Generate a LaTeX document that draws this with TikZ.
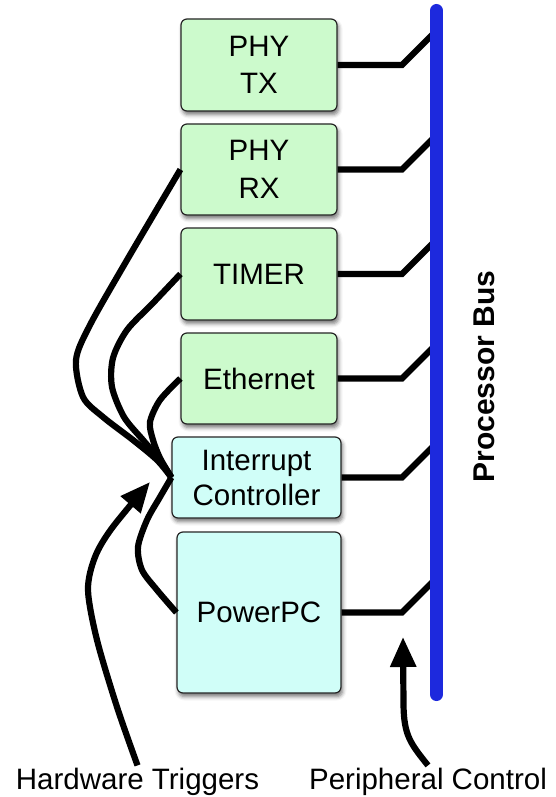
\documentclass[tikz,border=0pt]{standalone}
\usepackage{fontspec}
\setmainfont{Liberation Sans}
\usetikzlibrary{arrows.meta,shadows.blur}
\definecolor{boxgreen}{RGB}{204,250,204}
\definecolor{boxcyan}{RGB}{208,254,248}
\definecolor{busblue}{RGB}{29,41,221}
\begin{document}
\begin{tikzpicture}[x=1pt,y=-1pt,
  unit/.style={rectangle, rounded corners=6pt, draw=black!85, line width=1.2pt,
    align=center, inner sep=0pt, font=\fontsize{29.5}{37.5}\selectfont,
    blur shadow={shadow xshift=1.5pt, shadow yshift=-3.5pt, shadow blur radius=4pt, shadow opacity=55}},
  greenunit/.style={unit, fill=boxgreen, minimum width=156pt, minimum height=92pt},
  cyanunit/.style={unit, fill=boxcyan},
  wire/.style={line width=6.2pt, draw=black},
  pointer/.style={line width=6.2pt, draw=black, -{Triangle[length=30pt,width=25pt]}},
  caption/.style={font=\fontsize{29.5}{35}\selectfont, inner sep=2pt, anchor=base}
]
\useasboundingbox (0,0) rectangle (556,797);

% bus end points
\coordinate (bustop) at (436.5,10.5);
\coordinate (busbot) at (436.5,694.5);

% units
\node[greenunit] (tx)  at (259,65)    {PHY\\TX};
\node[greenunit, minimum height=91pt] (rx)  at (259,169.5) {PHY\\RX};
\node[greenunit] (tm)  at (259,274)   {TIMER};
\node[greenunit, minimum height=91pt] (eth) at (259,378.5) {Ethernet};
\node[cyanunit, minimum width=169pt, minimum height=81pt, font=\fontsize{29.5}{35}\selectfont] (ic) at (256.5,477.5) {Interrupt\\Controller};
\node[cyanunit, minimum width=164pt, minimum height=161pt] (ppc) at (259,612.5) {PowerPC};

% connectors to bus
\foreach \n in {tx,rx,tm,eth,ic,ppc}{
  \draw[wire] (\n.east) -- (402,0 |- \n.east) -- ++(34,-34);
}

% bus
\draw[line width=13pt, line cap=round, draw=busblue] (bustop) -- (busbot);
\node[rotate=90, font=\bfseries\fontsize{30}{36}\selectfont] (buslabel) at (484.5,376.5) {Processor Bus};

% interrupt lines
\draw[wire] plot[smooth] coordinates {(rx.west) (127,260) (90,325) (76,360) (83,397) (103,417) (133,440) (157,460) (ic.west)};
\draw[wire] plot[smooth] coordinates {(tm.west) (153,303) (127,330) (113,358) (112,387) (124,417) (143,440) (160,460) (ic.west)};
\draw[wire] plot[smooth] coordinates {(eth.west) (160,400) (150,422) (153,440) (160,458) (ic.west)};
\draw[wire] plot[smooth] coordinates {(ic.west) (160,497) (147,520) (138,547) (142,570) (157,590) (ppc.west)};

% captions and pointers
\node[caption] (hw) at (137.5,789) {Hardware Triggers};
\node[caption] (pc) at (428,789) {Peripheral Control};
\coordinate (hwtip) at (150,482);
\coordinate (pctip) at (403,637);
\draw[pointer] plot[smooth] coordinates {(hw.north) (117,707) (97,640) (88,590) (95,557) (112,528) (hwtip)};
\draw[pointer] (pc.north) .. controls (410,743) and (404,735) .. (403.5,705) -- (pctip);
\end{tikzpicture}
\end{document}
